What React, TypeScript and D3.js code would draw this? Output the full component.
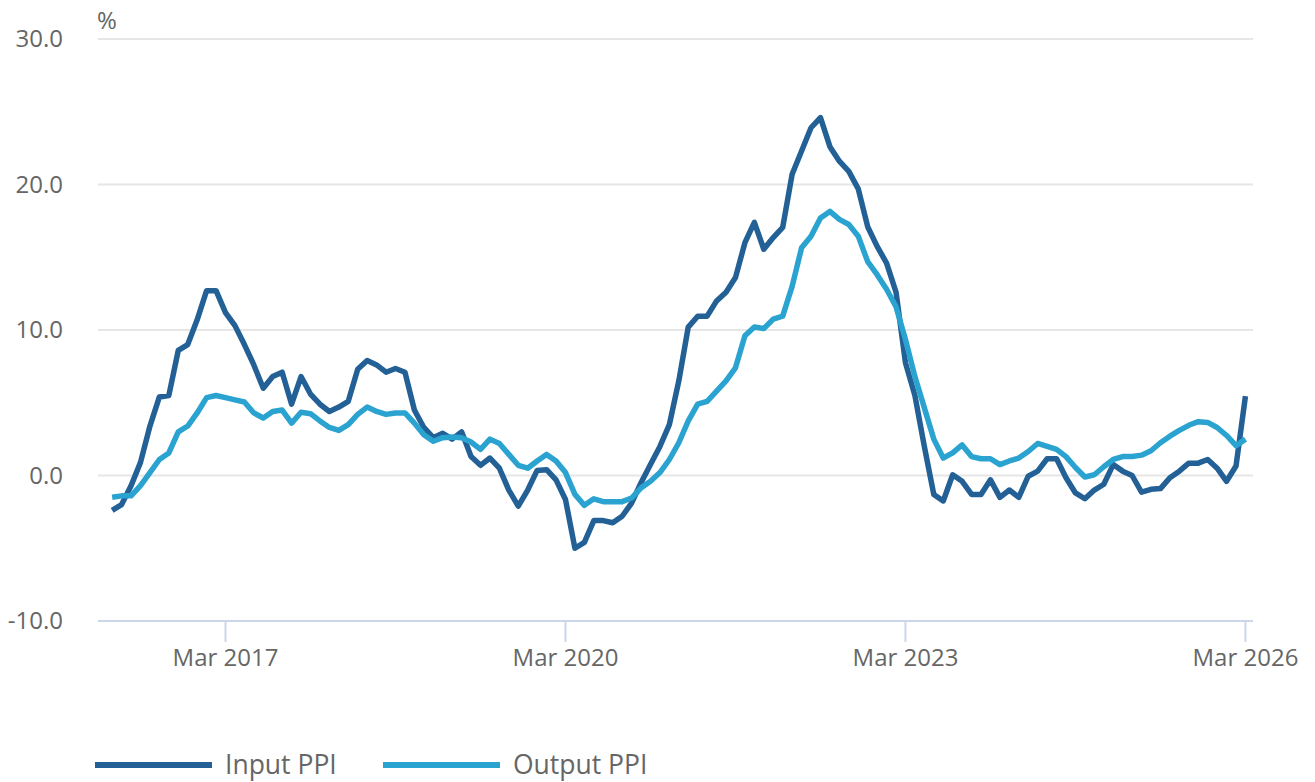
import { useEffect, useRef } from 'react';
import * as d3 from 'd3';

// monthly, Mar 2016 .. Mar 2026
const startYear = 2016;
const startMonth = 2; // March (0-based)

const inputPPI = [
  -2.4, -2.0, -0.7, 0.9, 3.4, 5.4, 5.5, 8.6, 9.0, 10.7, 12.7, 12.7,
  11.2, 10.3, 9.0, 7.6, 6.0, 6.8, 7.1, 4.9, 6.8, 5.6, 4.9, 4.4,
  4.7, 5.1, 7.3, 7.9, 7.6, 7.1, 7.35, 7.1, 4.5, 3.3, 2.6, 2.9,
  2.5, 3.0, 1.3, 0.7, 1.2, 0.5, -1.0, -2.1, -1.0, 0.35, 0.4, -0.3,
  -1.65, -5.0, -4.6, -3.1, -3.1, -3.25, -2.8, -1.9, -0.5, 0.75, 2.0, 3.5,
  6.5, 10.2, 10.95, 10.95, 12.0, 12.6, 13.6, 16.0, 17.4, 15.55, 16.35, 17.05,
  20.7, 22.3, 23.9, 24.6, 22.6, 21.6, 20.9, 19.7, 17.1, 15.75, 14.6, 12.6,
  7.75, 5.5, 2.0, -1.3, -1.75, 0.05, -0.4, -1.3, -1.3, -0.3, -1.5, -1.0,
  -1.5, -0.05, 0.3, 1.15, 1.15, -0.15, -1.2, -1.6, -1.0, -0.6, 0.75, 0.3,
  0.0, -1.15, -0.95, -0.9, -0.15, 0.3, 0.85, 0.85, 1.1, 0.5, -0.4, 0.65,
  5.45,
];

const outputPPI = [
  -1.5, -1.4, -1.4, -0.7, 0.2, 1.1, 1.55, 3.0, 3.4, 4.3, 5.35, 5.5,
  5.35, 5.2, 5.05, 4.3, 3.95, 4.4, 4.5, 3.6, 4.35, 4.25, 3.75, 3.3,
  3.1, 3.5, 4.2, 4.7, 4.4, 4.2, 4.3, 4.3, 3.6, 2.8, 2.35, 2.6,
  2.65, 2.6, 2.3, 1.8, 2.5, 2.2, 1.45, 0.7, 0.5, 1.0, 1.45, 1.0,
  0.2, -1.3, -2.05, -1.6, -1.8, -1.8, -1.8, -1.55, -0.85, -0.4, 0.2, 1.1,
  2.25, 3.75, 4.9, 5.1, 5.8, 6.5, 7.4, 9.6, 10.2, 10.1, 10.75, 10.95,
  13.0, 15.65, 16.45, 17.7, 18.15, 17.6, 17.25, 16.45, 14.7, 13.8, 12.8, 11.6,
  9.35, 6.8, 4.65, 2.5, 1.2, 1.55, 2.1, 1.3, 1.15, 1.15, 0.75, 1.0,
  1.2, 1.65, 2.2, 2.0, 1.8, 1.3, 0.55, -0.1, 0.05, 0.6, 1.1, 1.3,
  1.3, 1.4, 1.7, 2.25, 2.7, 3.1, 3.45, 3.7, 3.65, 3.3, 2.75, 2.05,
  2.5,
];

const yTicks = [-10, 0, 10, 20, 30];
const xTickIndex = [12, 48, 84, 120];
const seriesNames = ['Input PPI', 'Output PPI'];
const seriesColors = ['#226095', '#2aa3d0'];
const monthNames = ['Jan', 'Feb', 'Mar', 'Apr', 'May', 'Jun', 'Jul', 'Aug', 'Sep', 'Oct', 'Nov', 'Dec'];

const W = 1315;
const H = 782;

function monthLabel(i: number) {
  const m = startMonth + i;
  return `${monthNames[m % 12]} ${startYear + Math.floor(m / 12)}`;
}

export default function App() {
  const ref = useRef<SVGSVGElement>(null);

  useEffect(() => {
    document.body.style.margin = '0';
    const svg = d3.select(ref.current);
    svg.selectAll('*').remove();

    const left = 98, right = 1253, top = 39, bottom = 621;
    const x = d3.scaleLinear().domain([-1.5, inputPPI.length - 0.2]).range([left, right]);
    const y = d3.scaleLinear().domain([-10, 30]).range([bottom, top]);
    const font = '"Open Sans", sans-serif';

    // grid
    svg.append('g').selectAll('line').data(yTicks.filter(t => t > -10)).enter().append('line')
      .attr('x1', left).attr('x2', right)
      .attr('y1', d => y(d)).attr('y2', d => y(d))
      .attr('stroke', '#e6e6e6').attr('stroke-width', 2);

    // y labels
    svg.append('g').selectAll('text').data(yTicks).enter().append('text')
      .attr('x', 63).attr('y', d => y(d)).attr('dy', '0.35em')
      .attr('text-anchor', 'end').attr('font-family', font).attr('font-size', 24)
      .attr('fill', '#666').text(d => d.toFixed(1));

    svg.append('text').attr('x', 97).attr('y', 29)
      .attr('font-family', font).attr('font-size', 24).attr('fill', '#666').text('%');

    // x axis
    svg.append('line').attr('x1', left).attr('x2', right).attr('y1', bottom).attr('y2', bottom)
      .attr('stroke', '#ccd6eb').attr('stroke-width', 2);
    const xt = svg.append('g').selectAll('g').data(xTickIndex).enter().append('g')
      .attr('transform', d => `translate(${x(d)},0)`);
    xt.append('line').attr('y1', bottom).attr('y2', bottom + 21)
      .attr('stroke', '#ccd6eb').attr('stroke-width', 2);
    xt.append('text').attr('y', bottom + 45).attr('text-anchor', 'middle')
      .attr('font-family', font).attr('font-size', 24).attr('fill', '#666')
      .text(d => monthLabel(d));

    // lines
    const line = d3.line<number>().x((_, i) => x(i)).y(d => y(d));
    [inputPPI, outputPPI].forEach((vals, k) => {
      svg.append('path').datum(vals).attr('d', line)
        .attr('fill', 'none').attr('stroke', seriesColors[k]).attr('stroke-width', 5.5)
        .attr('stroke-linejoin', 'round').attr('stroke-linecap', 'butt');
    });

    // legend
    const lg = svg.append('g').selectAll('g').data(seriesNames).enter().append('g')
      .attr('transform', (_, i) => `translate(${95 + i * 288},765)`);
    lg.append('line').attr('x1', 0).attr('x2', 117)
      .attr('stroke', (_, i) => seriesColors[i]).attr('stroke-width', 6);
    lg.append('text').attr('x', 130).attr('dy', '0.35em')
      .attr('font-family', font).attr('font-size', 26.5).attr('fill', '#666')
      .text(d => d);
  }, []);

  return <svg ref={ref} width={W} height={H} style={{ display: 'block', background: '#fff' }} />;
}
